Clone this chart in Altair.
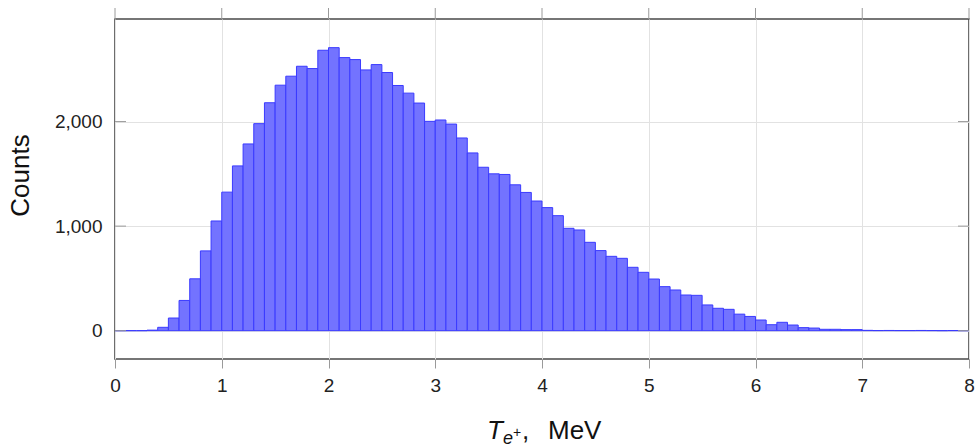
import altair as alt
import pandas as pd

# Histogram counts per 0.1 MeV bin, from 0 to 8 MeV
counts = [0, 0, 0, 5, 32, 121, 289, 496, 763, 1049,
          1325, 1576, 1786, 1980, 2180, 2348, 2434, 2529, 2507, 2682,
          2707, 2612, 2593, 2494, 2545, 2469, 2345, 2272, 2177, 2002,
          2015, 1976, 1843, 1700, 1563, 1500, 1494, 1395, 1322, 1240,
          1177, 1100, 979, 963, 845, 766, 711, 692, 606, 558,
          494, 421, 389, 341, 338, 246, 214, 204, 158, 136,
          102, 57, 80, 54, 29, 25, 13, 13, 10, 10,
          3, 1, 2, 1, 1, 2, 1, 0, 1, 0]
bin_width = 0.1
bin_start = [round(i * bin_width, 1) for i in range(len(counts))]
bin_end = [round(s + bin_width, 1) for s in bin_start]

x_ticks = [0, 1, 2, 3, 4, 5, 6, 7, 8]
y_ticks = [0, 1000, 2000]

W, H = 854, 340
FONT = "Liberation Sans"
TICK_COLOR = "#9a9a9a"

df = pd.DataFrame({"start": bin_start, "end": bin_end, "count": counts})

xscale = alt.Scale(domain=[0, 8], nice=False, zero=False)
yscale = alt.Scale(domain=[-271, 2981], nice=False, zero=False)

bars = alt.Chart(df).mark_bar(
    fill="#7373ff", stroke="#3a3aff", strokeWidth=1, fillOpacity=1
).encode(
    x=alt.X("start:Q", scale=xscale,
            axis=alt.Axis(values=x_ticks, title=None, grid=True, gridColor="#e2e2e2",
                          gridWidth=1, domain=False, tickSize=9, tickColor=TICK_COLOR,
                          tickWidth=1, labelFontSize=19, labelFont=FONT, labelColor="#222",
                          labelPadding=8, labelFlush=False, format="d")),
    x2="end:Q",
    y=alt.Y("count:Q", scale=yscale,
            axis=alt.Axis(values=y_ticks, title="Counts", grid=True, gridColor="#e2e2e2",
                          gridWidth=1, domain=False, ticks=False, labelFontSize=19,
                          labelFont=FONT, labelColor="#222", labelPadding=13, format=",d",
                          labelFlush=False,
                          titleFontSize=26, titleFont=FONT, titleFontWeight="normal",
                          titleColor="#111", titleX=-82, titleY=156)),
    y2=alt.datum(0),
)

ytick_df = pd.DataFrame({"v": y_ticks})
left_ticks = alt.Chart(ytick_df).mark_rule(color=TICK_COLOR, strokeWidth=1).encode(
    y=alt.Y("v:Q", scale=yscale), x=alt.value(0), x2=alt.value(11))
right_ticks = alt.Chart(ytick_df).mark_rule(color=TICK_COLOR, strokeWidth=1).encode(
    y=alt.Y("v:Q", scale=yscale), x=alt.value(W - 11), x2=alt.value(W))

xtick_df = pd.DataFrame({"v": x_ticks})
top_ticks = alt.Chart(xtick_df).mark_rule(color=TICK_COLOR, strokeWidth=1).encode(
    x=alt.X("v:Q", scale=xscale), y=alt.value(-11), y2=alt.value(0))

one = pd.DataFrame({"k": [0]})


def txt(s, x, y, size, italic=False):
    return alt.Chart(one).mark_text(
        text=s, align="left", baseline="alphabetic", fontSize=size, font=FONT,
        fontStyle="italic" if italic else "normal", color="#111"
    ).encode(x=alt.value(x), y=alt.value(y))


title_parts = [
    txt("T", 372, 420, 26, True),
    txt("e", 388, 425, 18, True),
    txt("+", 398, 418, 14),
    txt(",", 407, 420, 26),
    txt("MeV", 433, 420, 26),
]

chart = alt.layer(bars, left_ticks, right_ticks, top_ticks, *title_parts).properties(
    width=W, height=H,
    padding={"left": 115, "top": 19, "right": 6, "bottom": 89},
    autosize=alt.AutoSizeParams(type="none"),
    background="white",
).configure_view(stroke="#4a4a4a", strokeWidth=1.6)

chart.save("out.html", embed_options={"renderer": "svg", "actions": False})
